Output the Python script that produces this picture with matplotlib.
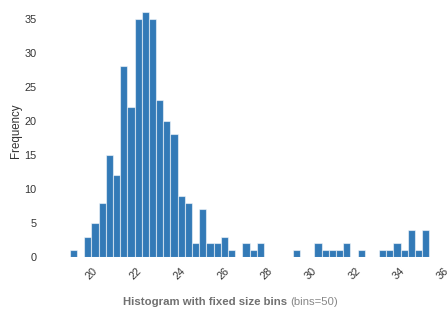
import numpy as np
import matplotlib
matplotlib.use('Agg')
import matplotlib.pyplot as plt

# bin counts (50 equal bins)
counts = [1, 0, 3, 5, 8, 15, 12, 28, 22, 35,
          36, 35, 23, 20, 18, 9, 8, 2, 7, 2,
          2, 3, 1, 0, 2, 1, 2, 0, 0, 0,
          0, 1, 0, 0, 2, 1, 1, 1, 2, 0,
          1, 0, 0, 1, 1, 2, 1, 4, 1, 4]
dataMin = 18.81
dataMax = 35.2
xTicks = [20, 22, 24, 26, 28, 30, 32, 34, 36]
yTicks = [0, 5, 10, 15, 20, 25, 30, 35]

edges = np.linspace(dataMin, dataMax, len(counts) + 1)

plt.rcParams['font.family'] = ['Liberation Sans', 'DejaVu Sans']

fig = plt.figure(figsize=(4.47, 3.13), dpi=100)
ax = fig.add_axes([52 / 447, 56 / 313, 395 / 447, 252 / 313])

ax.bar(edges[:-1], counts, width=np.diff(edges), align='edge',
       color='#337ab7', edgecolor=(1, 1, 1, 0.55), linewidth=0.8)

ax.set_xlim(18, 36)
ax.set_ylim(0, 37)
ax.set_xticks(xTicks)
ax.set_yticks(yTicks)
ax.set_xticklabels([str(t) for t in xTicks], rotation=45, ha='right',
                   va='center', rotation_mode='anchor')
ax.tick_params(length=0, labelsize=7.8, labelcolor='#333333')
ax.tick_params(axis='x', pad=9)
ax.tick_params(axis='y', pad=11)
for s in ax.spines.values():
    s.set_visible(False)

ax.set_ylabel('Frequency', fontsize=8.3, color='#333333', labelpad=2)

fig.text(287 / 447, 1 - 302 / 313, 'Histogram with fixed size bins',
         fontsize=8.2, fontweight='bold', color='#707070', ha='right', va='center')
fig.text(290 / 447, 1 - 302 / 313, '(bins=50)',
         fontsize=8.2, color='#888888', ha='left', va='center')

fig.savefig('out.png', dpi=100)
